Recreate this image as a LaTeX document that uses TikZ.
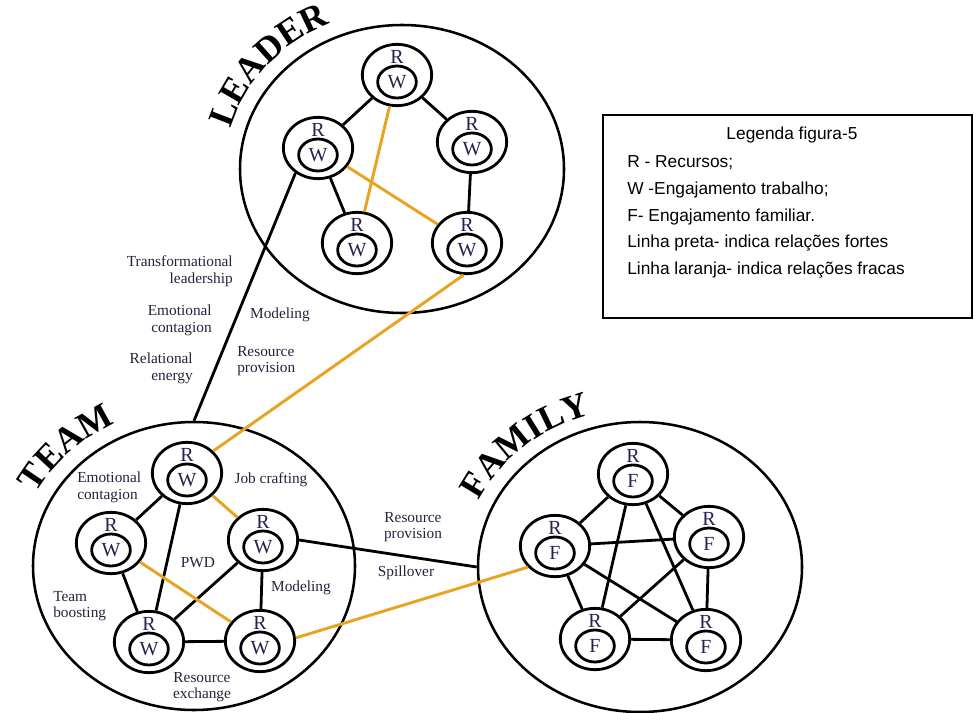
\documentclass[tikz,border=0pt]{standalone}
\usepackage{fontspec}
\setmainfont{Liberation Serif}
\newfontfamily\legfont{Liberation Sans}
\usetikzlibrary{shapes.geometric,decorations.text}
\definecolor{orng}{RGB}{232,163,32}
\definecolor{labc}{RGB}{35,35,60}
\definecolor{letc}{RGB}{45,30,80}
\newcommand\ttlfnt{\fontsize{27}{27}\selectfont\bfseries}
\newcommand\rwnode[4]{%
  \node[outerc] (#1) at (#2,#3) {};
  \node[innerc] (#1i) at (#2,#3+7) {#4};
  \node[rlet] (#1r) at (#2,#3-18) {R};
}
\begin{document}
\begin{tikzpicture}[x=0.75pt,y=-0.75pt,
  bigc/.style={draw, ellipse, line width=1.9pt, inner sep=0pt},
  outerc/.style={draw, ellipse, line width=2.1pt, minimum width=52pt, minimum height=46pt, inner sep=0pt},
  innerc/.style={draw, ellipse, line width=2.1pt, minimum width=29pt, minimum height=24pt, inner sep=0pt, text=letc, font=\fontsize{15}{15}\selectfont},
  rlet/.style={inner sep=0pt, text=letc, font=\fontsize{15}{15}\selectfont},
  blk/.style={line width=2.1pt, black},
  org/.style={line width=2.2pt, orng},
  lab/.style={text=labc, font=\fontsize{11.5}{12.5}\selectfont, inner sep=0pt},
  leg/.style={font=\legfont\fontsize{13}{13}\selectfont, inner sep=0pt, anchor=west},
  legbox/.style={draw, line width=1.1pt, inner sep=0pt, minimum width=276.75pt, minimum height=152.25pt}
]
\useasboundingbox (0,0) rectangle (974,713);

% big circles
\node[bigc, minimum width=243pt, minimum height=216pt] (lead) at (402,169) {};
\node[bigc, minimum width=241.5pt, minimum height=216pt] (team) at (194,566) {};
\node[bigc, minimum width=243pt, minimum height=217.5pt] (fam) at (640,567) {};

% titles
\path[decorate, decoration={text along path, text align=center, text={|\ttlfnt|LEADER}}]
  ([shift={(175:133pt and 119pt)}]lead.center) arc[start angle=175, end angle=105, x radius=133pt, y radius=119pt];
\path[decorate, decoration={text along path, text align=center, text={|\ttlfnt|TEAM}}]
  ([shift={(165:133pt and 119pt)}]team.center) arc[start angle=165, end angle=105, x radius=133pt, y radius=119pt];
\path[decorate, decoration={text along path, text align=center, text={|\ttlfnt|FAMILY}}]
  ([shift={(166:133pt and 119pt)}]fam.center) arc[start angle=166, end angle=96, x radius=133pt, y radius=119pt];

% leader nodes
\rwnode{L1}{397}{75}{W}
\rwnode{L2}{318}{148}{W}
\rwnode{L3}{472}{142}{W}
\rwnode{L4}{357}{243}{W}
\rwnode{L5}{467}{243}{W}
% team nodes
\rwnode{T1}{187}{473}{W}
\rwnode{T2}{111}{543}{W}
\rwnode{T3}{263}{540}{W}
\rwnode{T4}{149}{642}{W}
\rwnode{T5}{260}{641}{W}
% family nodes
\rwnode{F1}{633}{474}{F}
\rwnode{F2}{555}{546}{F}
\rwnode{F3}{709}{537}{F}
\rwnode{F4}{595}{639}{F}
\rwnode{F5}{706}{640}{F}

% leader edges
\draw[blk] (L1) -- (L2);
\draw[blk] (L1) -- (L3);
\draw[blk] (L3) -- (L5);
\draw[blk] (L2) -- (L4);
\draw[org] (L1) -- (L4);
\draw[org] (L2) -- (L5);
% team edges
\draw[blk] (T1) -- (T2);
\draw[blk] (T1) -- (T4);
\draw[blk] (T2) -- (T4);
\draw[blk] (T3) -- (T4);
\draw[blk] (T3) -- (T5);
\draw[blk] (T4) -- (T5);
\draw[org] (T1) -- (T3);
\draw[org] (T2) -- (T5);
% family edges
\draw[blk] (F1) -- (F2);
\draw[blk] (F1) -- (F3);
\draw[blk] (F1) -- (F4);
\draw[blk] (F1) -- (F5);
\draw[blk] (F2) -- (F3);
\draw[blk] (F2) -- (F4);
\draw[blk] (F2) -- (F5);
\draw[blk] (F3) -- (F4);
\draw[blk] (F3) -- (F5);
\draw[blk] (F4) -- (F5);
% cross connectors
\draw[blk] (L2.228) -- (team.north);
\draw[org] (L5.264) -- (T1.40);
\draw[blk] (T3.east) -- (fam.west);
\draw[org] (T5.5) -- (F2.218);

% labels
\node[lab, align=right, anchor=east] (lb1) at (233,271) {Transformational\\leadership};
\node[lab, align=right, anchor=east] (lb2) at (212,320) {Emotional\\contagion};
\node[lab, align=right, anchor=east] (lb3) at (193,368) {Relational\\energy};
\node[lab] (lb4) at (280,315) {Modeling};
\node[lab, align=left, anchor=west] (lb5) at (237,361) {Resource\\provision};
\node[lab, align=left, anchor=west] (lb6) at (77,487) {Emotional\\contagion};
\node[lab] (lb7) at (271,480) {Job crafting};
\node[lab] (lb8) at (198,563) {PWD};
\node[lab] (lb9) at (301,588) {Modeling};
\node[lab, align=left, anchor=west] (lb10) at (53,606) {Team\\boosting};
\node[lab, align=center] (lb11) at (202,687) {Resource\\exchange};
\node[lab, align=center] (lb12) at (413,527) {Resource\\provision};
\node[lab] (lb13) at (406,573) {Spillover};

% legend
\node[legbox] (legend) at (787.5,216.5) {};
\node[leg, anchor=center] (lg0) at (792,135) {Legenda figura-5};
\node[leg] (lg1) at (627,163) {R - Recursos;};
\node[leg] (lg2) at (627,190) {W -Engajamento trabalho;};
\node[leg] (lg3) at (627,217) {F- Engajamento familiar.};
\node[leg] (lg4) at (627,243) {Linha preta- indica relações fortes};
\node[leg] (lg5) at (627,270) {Linha laranja- indica relações fracas};
\end{tikzpicture}
\end{document}
